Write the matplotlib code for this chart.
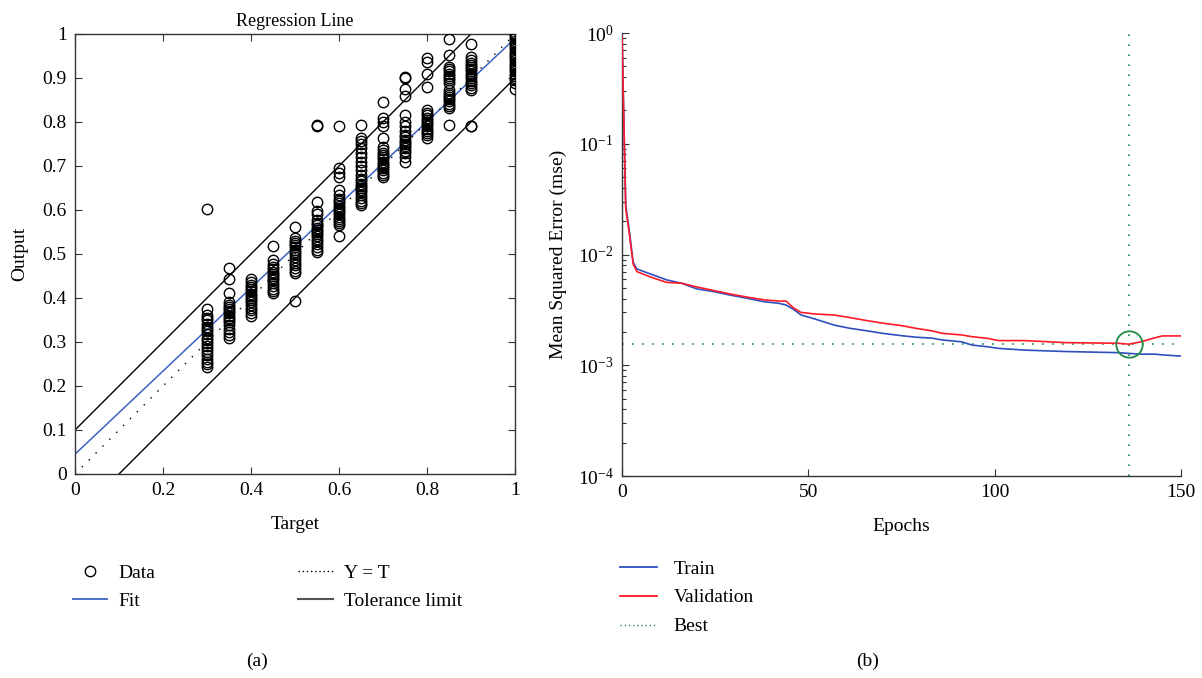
import numpy as np
import matplotlib
matplotlib.use("Agg")
import matplotlib.pyplot as plt
from matplotlib.ticker import FuncFormatter, LogLocator, NullFormatter
from matplotlib.lines import Line2D

plt.rcParams['font.family'] = ['Liberation Serif', 'DejaVu Serif']
plt.rcParams['mathtext.fontset'] = 'stix'

# ---------------- Panel (a) data: targets and network outputs ----------------
targets = [0.30, 0.35, 0.40, 0.45, 0.50, 0.55, 0.60, 0.65, 0.70, 0.75, 0.80, 0.85, 0.90, 1.00]
outputs = [
    [0.243, 0.25, 0.255, 0.262, 0.27, 0.278, 0.285, 0.29, 0.298, 0.305, 0.31, 0.318,
     0.325, 0.33, 0.335, 0.342, 0.35, 0.355, 0.362, 0.375, 0.602],
    [0.31, 0.315, 0.322, 0.33, 0.338, 0.345, 0.35, 0.355, 0.36, 0.365, 0.37, 0.375,
     0.38, 0.385, 0.39, 0.411, 0.443, 0.468],
    [0.36, 0.365, 0.372, 0.378, 0.385, 0.39, 0.395, 0.4, 0.405, 0.41, 0.415, 0.42,
     0.425, 0.43, 0.437, 0.443],
    [0.411, 0.415, 0.42, 0.428, 0.435, 0.44, 0.445, 0.45, 0.455, 0.46, 0.465, 0.47,
     0.478, 0.486, 0.518],
    [0.393, 0.457, 0.462, 0.468, 0.475, 0.48, 0.487, 0.493, 0.5, 0.505, 0.509, 0.515,
     0.52, 0.525, 0.53, 0.536, 0.561],
    [0.505, 0.509, 0.515, 0.522, 0.53, 0.535, 0.54, 0.545, 0.55, 0.555, 0.56, 0.565,
     0.57, 0.578, 0.59, 0.598, 0.618, 0.79, 0.793],
    [0.541, 0.566, 0.57, 0.575, 0.58, 0.585, 0.59, 0.595, 0.6, 0.605, 0.61, 0.615,
     0.62, 0.625, 0.634, 0.645, 0.676, 0.683, 0.695, 0.79],
    [0.611, 0.615, 0.62, 0.628, 0.635, 0.64, 0.645, 0.65, 0.655, 0.66, 0.665, 0.67,
     0.68, 0.69, 0.70, 0.71, 0.72, 0.73, 0.74, 0.75, 0.756, 0.764, 0.793],
    [0.675, 0.68, 0.685, 0.69, 0.695, 0.70, 0.705, 0.71, 0.715, 0.72, 0.725, 0.73,
     0.737, 0.743, 0.764, 0.79, 0.80, 0.81, 0.845],
    [0.71, 0.72, 0.73, 0.735, 0.74, 0.745, 0.75, 0.755, 0.76, 0.765, 0.77, 0.78,
     0.79, 0.80, 0.816, 0.858, 0.876, 0.899, 0.903],
    [0.764, 0.77, 0.775, 0.78, 0.785, 0.79, 0.795, 0.80, 0.805, 0.81, 0.815, 0.82,
     0.827, 0.88, 0.91, 0.936, 0.945],
    [0.793, 0.832, 0.837, 0.842, 0.847, 0.852, 0.857, 0.862, 0.867, 0.873, 0.889,
     0.895, 0.90, 0.905, 0.91, 0.915, 0.92, 0.925, 0.952, 0.989],
    [0.79, 0.792, 0.873, 0.878, 0.883, 0.888, 0.893, 0.90, 0.905, 0.91, 0.915, 0.92,
     0.925, 0.93, 0.935, 0.94, 0.948, 0.977],
    [0.875, 0.889, 0.895, 0.90, 0.905, 0.91, 0.915, 0.92, 0.925, 0.93, 0.935, 0.94,
     0.945, 0.95, 0.955, 0.96, 0.965, 0.97, 0.975, 0.98, 0.985, 0.99, 0.995, 1.0],
]
fit_x = [0.0, 1.0]
fit_y = [0.045, 0.99]
ideal_x = [0.0, 1.0]
ideal_y = [0.0, 1.0]
tol_upper_x = [0.0, 0.9]
tol_upper_y = [0.1, 1.0]
tol_lower_x = [0.1, 1.0]
tol_lower_y = [0.0, 0.9]

# ---------------- Panel (b) data: training performance ----------------
epochs = [0, 1, 2, 3, 4, 8, 12, 16, 20, 25, 29, 34, 38, 42, 44, 46, 48, 52, 57, 61,
          66, 70, 75, 79, 83, 86, 91, 94, 98, 101, 108, 119, 133, 136, 139, 143, 145, 150]
train_mse = [0.98, 0.028, 0.016, 0.0085, 0.0074, 0.0066, 0.0059, 0.0055, 0.0049, 0.0046,
             0.0043, 0.0040, 0.00375, 0.00363, 0.0035, 0.0032, 0.00285, 0.0026, 0.0023,
             0.00216, 0.00204, 0.00194, 0.00185, 0.00179, 0.00176, 0.00169, 0.00163,
             0.00152, 0.00147, 0.00142, 0.00137, 0.00133, 0.0013, 0.00128, 0.00126,
             0.00126, 0.00124, 0.00121]
val_mse = [0.93, 0.026, 0.015, 0.0082, 0.0070, 0.0062, 0.0056, 0.0055, 0.0051, 0.0047,
           0.0044, 0.0041, 0.0039, 0.0038, 0.0038, 0.0033, 0.0030, 0.0029, 0.00284,
           0.0027, 0.00252, 0.0024, 0.00228, 0.00215, 0.00205, 0.00194, 0.00188,
           0.00181, 0.00175, 0.00167, 0.00167, 0.0016, 0.00158, 0.00155, 0.00162,
           0.00177, 0.00184, 0.00184]
best_epoch = 136
best_mse = 0.00155

BLUE = '#2f4fbf'
RED = '#ff1a2a'
GREEN = '#1e8a46'
FIT_BLUE = '#3b63c4'

fig = plt.figure(figsize=(12.02, 6.78), dpi=100)
FS = 14

# ---------------- Panel (a) ----------------
axa = fig.add_axes([75 / 1202, 1 - 474 / 678, 440 / 1202, 440 / 678])
for t, outs in zip(targets, outputs):
    axa.plot([t] * len(outs), outs, linestyle='none', marker='o', ms=7.5,
             mfc='none', mec='black', mew=1.0, zorder=3)
axa.plot(fit_x, fit_y, color=FIT_BLUE, lw=1.1, zorder=2)
axa.plot(ideal_x, ideal_y, color='black', lw=1.0, linestyle=(0, (1, 6)), zorder=2)
axa.plot(tol_upper_x, tol_upper_y, color='black', lw=1.0, zorder=2)
axa.plot(tol_lower_x, tol_lower_y, color='black', lw=1.0, zorder=2)
axa.set_xlim(0, 1)
axa.set_ylim(0, 1)
axa.set_xticks(np.arange(0, 1.01, 0.2))
axa.set_yticks(np.arange(0, 1.01, 0.1))
gfmt = FuncFormatter(lambda v, p: ('%g' % round(v, 2)))
axa.xaxis.set_major_formatter(gfmt)
axa.yaxis.set_major_formatter(gfmt)
axa.tick_params(direction='in', top=True, right=True, length=5, width=0.8,
                labelsize=FS, pad=6, color='#333333')
for s in axa.spines.values():
    s.set_color('#333333')
    s.set_linewidth(1.0)
axa.set_title('Regression Line', fontsize=13, pad=6)
axa.set_xlabel('Target', fontsize=FS, labelpad=12)
axa.set_ylabel('Output', fontsize=FS, labelpad=10)

ha = [Line2D([], [], linestyle='none', marker='o', ms=7.5, mfc='none', mec='black', mew=1.0),
      Line2D([], [], color=FIT_BLUE, lw=1.3),
      Line2D([], [], color='black', lw=1.0, linestyle=(0, (1, 2))),
      Line2D([], [], color='#555555', lw=1.5)]
fig.legend(ha, ['Data', 'Fit', 'Y = T', 'Tolerance limit'], ncol=2, frameon=False,
           loc='upper left', bbox_to_anchor=(73 / 1202, 1 - 564 / 678),
           borderaxespad=0, borderpad=0, fontsize=FS, handlelength=1.75,
           handletextpad=0.6, columnspacing=7.35, labelspacing=0.55)

# ---------------- Panel (b) ----------------
axb = fig.add_axes([622 / 1202, 1 - 476 / 678, 559 / 1202, 443 / 678])
axb.plot(epochs, train_mse, color=BLUE, lw=1.2, zorder=3)
axb.plot(epochs, val_mse, color=RED, lw=1.2, zorder=4)
axb.axhline(best_mse, color=GREEN, lw=1.2, linestyle=(0, (1, 5)), zorder=2)
axb.axvline(best_epoch, color=GREEN, lw=1.2, linestyle=(0, (1, 5)), zorder=2)
axb.plot([best_epoch], [best_mse], linestyle='none', marker='o', ms=19, mfc='none',
         mec=GREEN, mew=1.3, zorder=5)
axb.set_yscale('log')
axb.set_xlim(0, 150)
axb.set_ylim(1e-4, 1)
axb.set_xticks([0, 50, 100, 150])
axb.yaxis.set_major_locator(LogLocator(base=10, numticks=10))
axb.yaxis.set_minor_locator(LogLocator(base=10, subs=np.arange(2, 10), numticks=10))
axb.yaxis.set_minor_formatter(NullFormatter())
axb.spines['top'].set_visible(False)
axb.spines['right'].set_visible(False)
for s in ('left', 'bottom'):
    axb.spines[s].set_color('#333333')
    axb.spines[s].set_linewidth(1.0)
axb.tick_params(which='major', direction='in', length=5, width=0.8, labelsize=FS,
                pad=6, color='#333333')
axb.tick_params(which='minor', direction='in', length=3, width=0.8, color='#333333')
axb.set_xlabel('Epochs', fontsize=FS, labelpad=12)
axb.set_ylabel('Mean Squared Error (mse)', fontsize=FS, labelpad=8)

hb = [Line2D([], [], color=BLUE, lw=1.3),
      Line2D([], [], color=RED, lw=1.3),
      Line2D([], [], color=GREEN, lw=1.0, linestyle=(0, (1, 2)))]
fig.legend(hb, ['Train', 'Validation', 'Best'], ncol=1, frameon=False,
           loc='upper left', bbox_to_anchor=(620 / 1202, 1 - 560 / 678),
           borderaxespad=0, borderpad=0, fontsize=FS, handlelength=1.9,
           handletextpad=0.85, labelspacing=0.58)

fig.text(257 / 1202, 1 - 661 / 678, '(a)', fontsize=FS, ha='center', va='center')
fig.text(868 / 1202, 1 - 661 / 678, '(b)', fontsize=FS, ha='center', va='center')

fig.savefig('out.png', dpi=100)
